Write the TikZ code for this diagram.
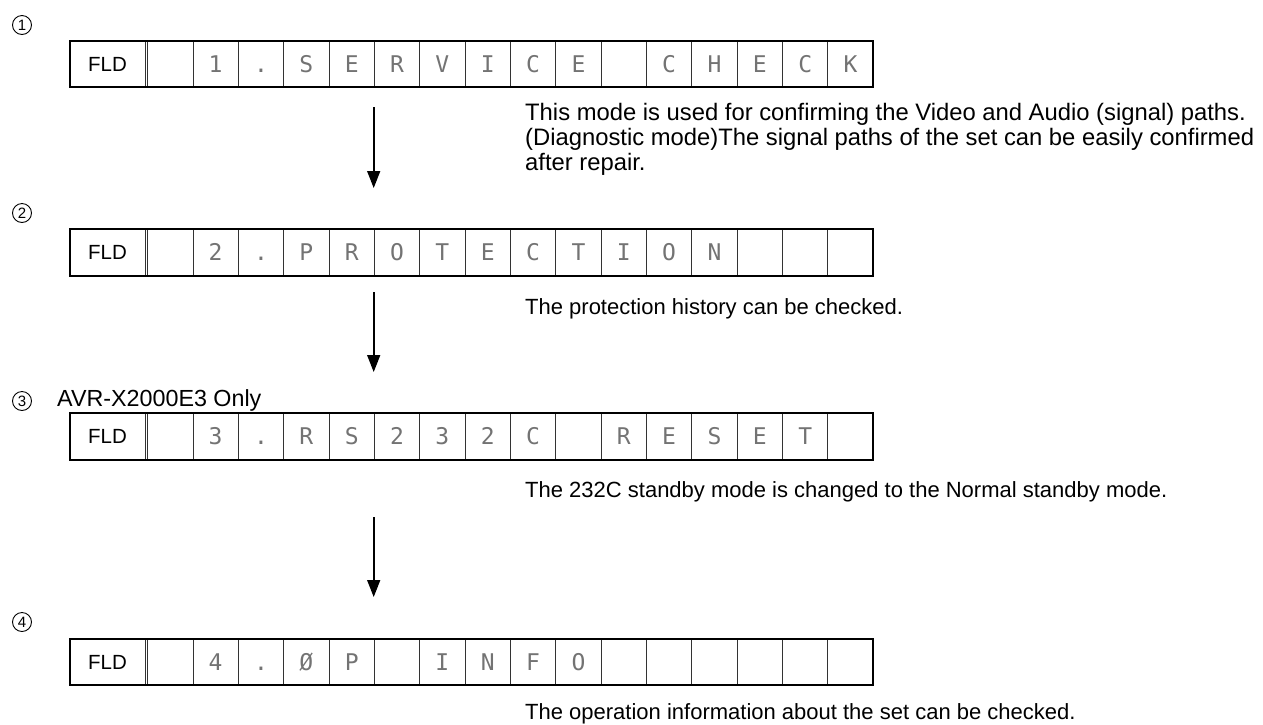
\documentclass[tikz,border=0pt]{standalone}
\usepackage{fontspec}
\setmainfont{Liberation Sans}
\newfontfamily\dotfont{DejaVu Sans Mono}
\usetikzlibrary{arrows.meta}
\tikzset{
  desc/.style={font=\fontsize{23.8}{25}\selectfont, inner sep=0pt, align=left},
  descsm/.style={font=\fontsize{22}{25}\selectfont, inner sep=0pt, align=left},
  circnum/.style={circle, draw=black, line width=0.9pt, minimum size=19pt, inner sep=0pt,
    font=\fontsize{15}{15}\selectfont, text height=10.8pt, text depth=0pt},
  fldcell/.style={draw=black!80, line width=0.9pt, minimum width=75pt, minimum height=46.5pt,
    inner sep=0pt, outer sep=0pt, font=\fontsize{20.5}{20.5}\selectfont},
  segcell/.style={draw=black!80, line width=0.9pt, minimum width=45.35pt, minimum height=46.5pt,
    inner sep=0pt, outer sep=0pt, text=black!55, text height=16.8pt, text depth=0pt,
    font=\dotfont\fontsize{23}{23}\selectfont},
  rowframe/.style={draw=black, line width=2pt},
  flowarrow/.style={line width=1.6pt, -{Triangle[length=17pt,width=13pt]}},
}
\newcommand\fldrow[3]{%
  \node[fldcell] (#1f) at (107.5,#2) {FLD};
  \foreach \ch [count=\i from 0] in {#3} {
    \node[segcell] (#1c\i) at ({147.6+45.35*(\i+0.5)},#2) {\ch};
  }
  \draw[rowframe] (#1f.north west) rectangle (#1c15.south east);
}
\begin{document}
\begin{tikzpicture}[x=1pt,y=-1pt]
\useasboundingbox (0,0) rectangle (1263,724);
% circled numbers
\node[circnum] (n1) at (22,25) {1};
\node[circnum] (n2) at (22,213) {2};
\node[circnum] (n3) at (22,401) {3};
\node[circnum] (n4) at (22,622) {4};
\node[desc, font=\fontsize{23.3}{25}\selectfont, anchor=base west] (t3) at (57,406) {AVR-X2000E3 Only};
% display rows
\fldrow{r1}{64}{{},1,.,S,E,R,V,I,C,E,{},C,H,E,C,K}
\fldrow{r2}{252.5}{{},2,.,P,R,O,T,E,C,T,I,O,N,{},{},{}}
\fldrow{r3}{436.5}{{},3,.,R,S,2,3,2,C,{},R,E,S,E,T,{}}
\fldrow{r4}{662}{{},4,.,Ø,P,{},I,N,F,O,{},{},{},{},{},{}}
% descriptions
\node[desc, anchor=north west] (d1) at (525,103.5) {This mode is used for confirming the Video and Audio (signal) paths.\\(Diagnostic mode)The signal paths of the set can be easily confirmed\\after repair.};
\node[descsm, anchor=base west] (d2) at (525,314) {The protection history can be checked.};
\node[descsm, anchor=base west] (d3) at (525,497) {The 232C standby mode is changed to the Normal standby mode.};
\node[descsm, anchor=base west] (d4) at (525,719) {The operation information about the set can be checked.};
% arrows
\coordinate (a1s) at (373.7,107);
\coordinate (a1e) at (373.7,188);
\coordinate (a2s) at (373.7,292);
\coordinate (a2e) at (373.7,372);
\coordinate (a3s) at (373.7,517);
\coordinate (a3e) at (373.7,597);
\draw[flowarrow] (a1s) -- (a1e);
\draw[flowarrow] (a2s) -- (a2e);
\draw[flowarrow] (a3s) -- (a3e);
\end{tikzpicture}
\end{document}
